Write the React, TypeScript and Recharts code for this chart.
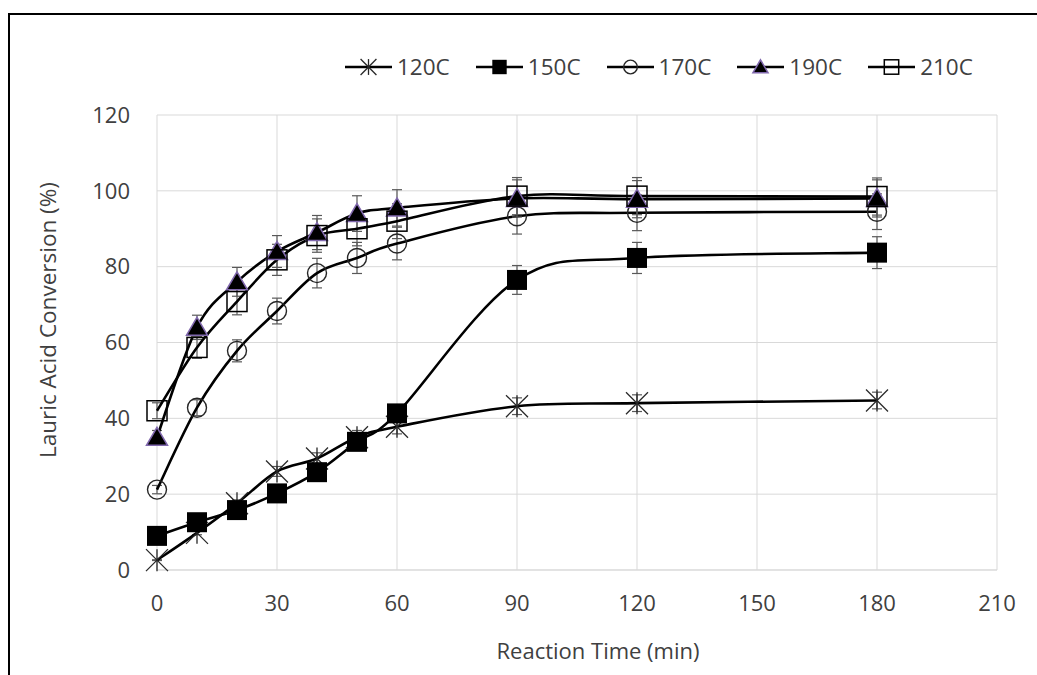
import React from "react";
import { LineChart, Line, XAxis, YAxis, CartesianGrid, ErrorBar, Label } from "recharts";

const times = [0, 10, 20, 30, 40, 50, 60, 90, 120, 180];

const conv120 = [2.6, 9.8, 17.6, 26, 29.4, 35, 37.8, 43.2, 44, 44.7];
const conv150 = [9, 12.6, 15.8, 20.2, 25.8, 33.8, 41.3, 76.5, 82.3, 83.7];
const conv170 = [21.2, 42.8, 57.8, 68.3, 78.3, 82.3, 86.1, 93.3, 94.2, 94.5];
const conv190 = [35, 64, 76, 84, 89, 94, 95.5, 98, 97.8, 98];
const conv210 = [42, 58.7, 70.8, 81.8, 88.2, 90, 92, 98.6, 98.6, 98.5];

const err120 = [0.1, 0.5, 0.9, 1.3, 1.5, 1.8, 1.9, 2.2, 2.2, 2.2];
const err150 = [0.5, 0.6, 0.8, 1.0, 1.3, 1.7, 2.1, 3.8, 4.1, 4.2];
const err170 = [1.1, 2.1, 2.9, 3.4, 3.9, 4.1, 4.3, 4.7, 4.7, 4.7];
const err190 = [1.8, 3.2, 3.8, 4.2, 4.5, 4.7, 4.8, 4.9, 4.9, 4.9];
const err210 = [2.1, 2.9, 3.5, 4.1, 4.4, 4.5, 4.6, 4.9, 4.9, 4.9];

const xTicks = [0, 30, 60, 90, 120, 150, 180, 210];
const yTicks = [0, 20, 40, 60, 80, 100, 120];

const seriesNames = ["120C", "150C", "170C", "190C", "210C"];

const data = times.map((t, i) => ({
  t,
  c120: conv120[i],
  e120: err120[i],
  c150: conv150[i],
  e150: err150[i],
  c170: conv170[i],
  e170: err170[i],
  c190: conv190[i],
  e190: err190[i],
  c210: conv210[i],
  e210: err210[i],
}));

const FONT = "'Open Sans', 'DejaVu Sans', sans-serif";
const TEXT = "#404040";
const GRID = "#d9d9d9";
const ERR = "#595959";

// Excel-style smoothed line (Catmull-Rom as bezier)
const excelSmooth = (context: any) => {
  let pts: number[][] = [];
  return {
    areaStart() {},
    areaEnd() {},
    lineStart() {
      pts = [];
    },
    point(x: number, y: number) {
      pts.push([+x, +y]);
    },
    lineEnd() {
      if (!pts.length) return;
      context.moveTo(pts[0][0], pts[0][1]);
      for (let i = 0; i < pts.length - 1; i++) {
        const p0 = pts[i - 1] || pts[i];
        const p1 = pts[i];
        const p2 = pts[i + 1];
        const p3 = pts[i + 2] || p2;
        context.bezierCurveTo(
          p1[0] + (p2[0] - p0[0]) / 6,
          p1[1] + (p2[1] - p0[1]) / 6,
          p2[0] - (p3[0] - p1[0]) / 6,
          p2[1] - (p3[1] - p1[1]) / 6,
          p2[0],
          p2[1]
        );
      }
    },
  };
};

type MarkerProps = { cx: number; cy: number; k: number };

const Marker = ({ name, cx, cy, k }: MarkerProps & { name: string }) => {
  if (name === "120C") {
    const s = 11 * k;
    return (
      <g stroke="#262626" strokeWidth={1.3} fill="none">
        <line x1={cx - s} y1={cy - s} x2={cx + s} y2={cy + s} />
        <line x1={cx - s} y1={cy + s} x2={cx + s} y2={cy - s} />
        <line x1={cx} y1={cy - s} x2={cx} y2={cy + s} />
      </g>
    );
  }
  if (name === "150C") {
    const s = 10 * k;
    return <rect x={cx - s} y={cy - s} width={2 * s} height={2 * s} fill="#000" />;
  }
  if (name === "170C") {
    return <circle cx={cx} cy={cy} r={9.5 * k} fill="none" stroke="#262626" strokeWidth={1.4} />;
  }
  if (name === "190C") {
    const w = 10.5 * k;
    const h = 10 * k;
    return (
      <polygon
        points={`${cx},${cy - h} ${cx + w},${cy + h * 0.8} ${cx - w},${cy + h * 0.8}`}
        fill="#000"
        stroke="#8068ad"
        strokeWidth={1.5}
      />
    );
  }
  const s = 10 * k;
  return (
    <rect x={cx - s} y={cy - s} width={2 * s} height={2 * s} fill="none" stroke="#000" strokeWidth={1.5} />
  );
};

const dotFor = (name: string) => (p: any) =>
  p.cx == null || p.cy == null ? (
    <g key={`${name}-${p.index}`} />
  ) : (
    <g key={`${name}-${p.index}`}>
      <Marker name={name} cx={p.cx} cy={p.cy} k={1} />
    </g>
  );

const ChartLegend = () => (
  <div
    style={{
      position: "absolute",
      left: 345,
      top: 54,
      display: "flex",
      alignItems: "center",
      gap: 26,
      fontFamily: FONT,
      fontSize: 22.5,
      color: TEXT,
    }}
  >
    {seriesNames.map((n) => (
      <div key={n} style={{ display: "flex", alignItems: "center", gap: 5 }}>
        <svg width={47} height={26}>
          <line x1={0} y1={13} x2={47} y2={13} stroke="#000" strokeWidth={2.4} />
          <Marker name={n} cx={23.5} cy={13} k={0.72} />
        </svg>
        <span style={{ lineHeight: "26px" }}>{n}</span>
      </div>
    ))}
  </div>
);

const keys = ["120", "150", "170", "190", "210"];

export default function App() {
  return (
    <div
      style={{
        position: "absolute",
        left: 0,
        top: 0,
        width: 1037,
        height: 675,
        background: "#fff",
        overflow: "hidden",
      }}
    >
      <div
        style={{
          position: "absolute",
          left: 8,
          top: 13,
          width: 1029,
          height: 662,
          borderLeft: "2px solid #000",
          borderTop: "2px solid #000",
        }}
      />
      <div style={{ position: "absolute", left: 0, top: 0 }}>
        <LineChart
          width={1037}
          height={675}
          data={data}
          margin={{ top: 115, right: 40, bottom: 45, left: 0 }}
        >
          <CartesianGrid stroke={GRID} strokeWidth={1} />
          <XAxis
            dataKey="t"
            type="number"
            domain={[0, 210]}
            ticks={xTicks}
            height={60}
            tickLine={false}
            tickSize={0}
            tickMargin={25}
            axisLine={{ stroke: GRID }}
            tick={{ fill: TEXT, fontSize: 22, fontFamily: FONT }}
            interval={0}
          >
            <Label
              content={() => (
                <text
                  x={598}
                  y={659}
                  textAnchor="middle"
                  fill={TEXT}
                  fontSize={22}
                  fontFamily={FONT}
                >
                  Reaction Time (min)
                </text>
              )}
            />
          </XAxis>
          <YAxis
            type="number"
            domain={[0, 120]}
            ticks={yTicks}
            width={157}
            axisLine={false}
            tickLine={false}
            tickSize={0}
            tickMargin={27}
            tick={{ fill: TEXT, fontSize: 22, fontFamily: FONT }}
            interval={0}
          >
            <Label
              content={() => (
                <text
                  x={47}
                  y={320}
                  transform="rotate(-90, 47, 320)"
                  textAnchor="middle"
                  dominantBaseline="central"
                  fill={TEXT}
                  fontSize={22.5}
                  fontFamily={FONT}
                >
                  Lauric Acid Conversion (%)
                </text>
              )}
            />
          </YAxis>
          {keys.map((k) => (
            <Line
              key={k}
              dataKey={`c${k}`}
              type={excelSmooth as any}
              stroke="#000"
              strokeWidth={2.6}
              dot={dotFor(`${k}C`)}
              activeDot={false}
              isAnimationActive={false}
            >
              <ErrorBar
                dataKey={`e${k}`}
                width={5}
                stroke={ERR}
                strokeWidth={1.2}
                direction="y"
                isAnimationActive={false}
              />
            </Line>
          ))}
        </LineChart>
      </div>
      <ChartLegend />
    </div>
  );
}
